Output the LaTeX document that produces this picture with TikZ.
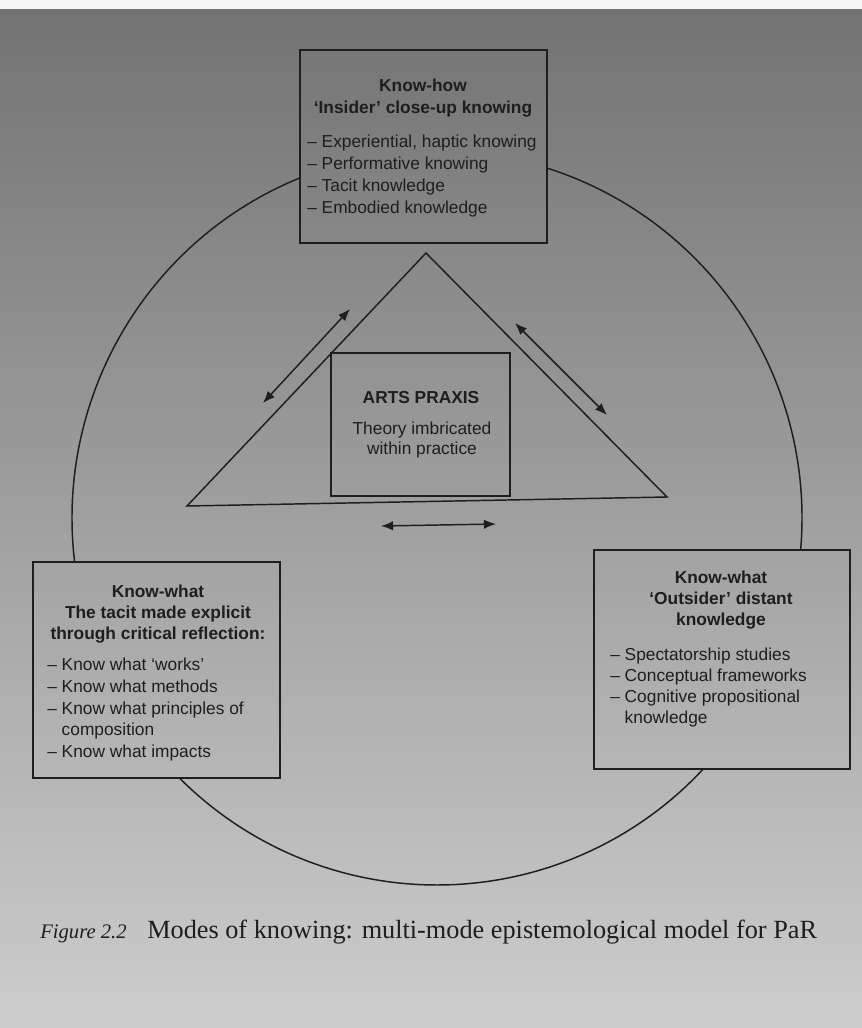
\documentclass[tikz,border=0pt]{standalone}
\usepackage{fontspec}
\setmainfont{Liberation Serif}
\newfontfamily\diagfont{Liberation Sans}
\usetikzlibrary{arrows.meta}
\definecolor{ink}{HTML}{1E1E1E}
\definecolor{bgtop}{HTML}{727272}
\definecolor{bgmid}{HTML}{B0B0B0}
\definecolor{bgbot}{HTML}{CDCDCD}
\begin{document}
\begin{tikzpicture}[x=0.75pt,y=-0.75pt,
  box/.style={draw=ink, line width=1.1pt, inner sep=0pt},
  txt/.style={font=\diagfont\fontsize{13}{16}\selectfont, text=ink, inner sep=0pt},
  hd/.style={font=\diagfont\bfseries\fontsize{13}{16}\selectfont, text=ink, inner sep=0pt},
  ln/.style={draw=ink, line width=1.1pt},
  dbl/.style={ln, {Latex[length=9pt,width=7pt]}-{Latex[length=9pt,width=7pt]}},
  arcs/.style={ln}]
\useasboundingbox (0,0) rectangle (862,1028);
\shade[top color=bgtop, middle color=bgmid, bottom color=bgbot] (0,0) rectangle (862,1028);
\fill[white!94!gray] (0,0) rectangle (862,9);

% boxes
\node[box, minimum width=185.25pt, minimum height=144.75pt] (knowhow) at (423.5,146.5) {};
\node[box, minimum width=185.25pt, minimum height=162pt] (tacit) at (156.5,670) {};
\node[box, minimum width=192pt, minimum height=164.25pt] (outsider) at (722,659.5) {};
\node[box, minimum width=134.25pt, minimum height=107.25pt] (praxis) at (420.5,424.5) {};

% triangle
\coordinate (apex) at (426,253);
\coordinate (bl) at (187,506);
\coordinate (br) at (667,497);
\draw[ln, line join=miter] (apex) -- (bl) -- (br) -- cycle;

% circle segments
\coordinate (ctr) at (437,518);
\draw[arcs] (ctr) ++(72.3:273.75pt and 275.25pt) arc[start angle=72.3, end angle=-5, x radius=273.75pt, y radius=275.25pt];
\draw[arcs] (ctr) ++(-43.2:273.75pt and 275.25pt) arc[start angle=-43.2, end angle=-134.9, x radius=273.75pt, y radius=275.25pt];
\draw[arcs] (ctr) ++(186.9:273.75pt and 275.25pt) arc[start angle=186.9, end angle=111.9, x radius=273.75pt, y radius=275.25pt];

% arrows
\coordinate (la1) at (350,309); \coordinate (la2) at (263,403);
\coordinate (ra1) at (515,323); \coordinate (ra2) at (607,415);
\coordinate (ba1) at (381,526); \coordinate (ba2) at (496,524);
\draw[dbl] (la1) -- (la2);
\draw[dbl] (ra1) -- (ra2);
\draw[dbl] (ba1) -- (ba2);

% top box text
\node[hd, anchor=base] (kh1) at (423,91) {Know-how};
\node[hd, anchor=base] (kh2) at (423,113) {‘Insider’ close-up knowing};
\node[txt, anchor=base west] (kh3) at (307,147) {– Experiential, haptic knowing};
\node[txt, anchor=base west] (kh4) at (307,169) {– Performative knowing};
\node[txt, anchor=base west] (kh5) at (307,191) {– Tacit knowledge};
\node[txt, anchor=base west] (kh6) at (307,213) {– Embodied knowledge};

% left box text
\node[hd, anchor=base] (kw1) at (158,597) {Know-what};
\node[hd, anchor=base] (kw2) at (158,618) {The tacit made explicit};
\node[hd, anchor=base] (kw3) at (158,639) {through critical reflection:};
\node[txt, anchor=base west] (kw4) at (47,670) {– Know what ‘works’};
\node[txt, anchor=base west] (kw5) at (47,692) {– Know what methods};
\node[txt, anchor=base west] (kw6) at (47,714) {– Know what principles of};
\node[txt, anchor=base west] (kw7) at (47,735) {\phantom{– }composition};
\node[txt, anchor=base west] (kw8) at (47,757) {– Know what impacts};

% right box text
\node[hd, anchor=base] (ko1) at (721,583) {Know-what};
\node[hd, anchor=base] (ko2) at (721,604) {‘Outsider’ distant};
\node[hd, anchor=base] (ko3) at (721,625) {knowledge};
\node[txt, anchor=base west] (ko4) at (610,660) {– Spectatorship studies};
\node[txt, anchor=base west] (ko5) at (610,681) {– Conceptual frameworks};
\node[txt, anchor=base west] (ko6) at (610,702) {– Cognitive propositional};
\node[txt, anchor=base west] (ko7) at (610,723) {\phantom{– }knowledge};

% centre box text
\node[hd, anchor=base] (ap1) at (421,403) {ARTS PRAXIS};
\node[txt, anchor=base] (ap2) at (422,434) {Theory imbricated};
\node[txt, anchor=base] (ap3) at (422,454) {within practice};

% caption
\node[anchor=base west, inner sep=0pt, text=ink, font=\itshape\fontsize{15.5}{18}\selectfont] (fig) at (40,938) {Figure 2.2};
\node[anchor=base west, inner sep=0pt, text=ink, font=\fontsize{19.7}{23}\selectfont] (cap) at (147,938) {Modes of knowing: multi-mode epistemological model for PaR};
\end{tikzpicture}
\end{document}
